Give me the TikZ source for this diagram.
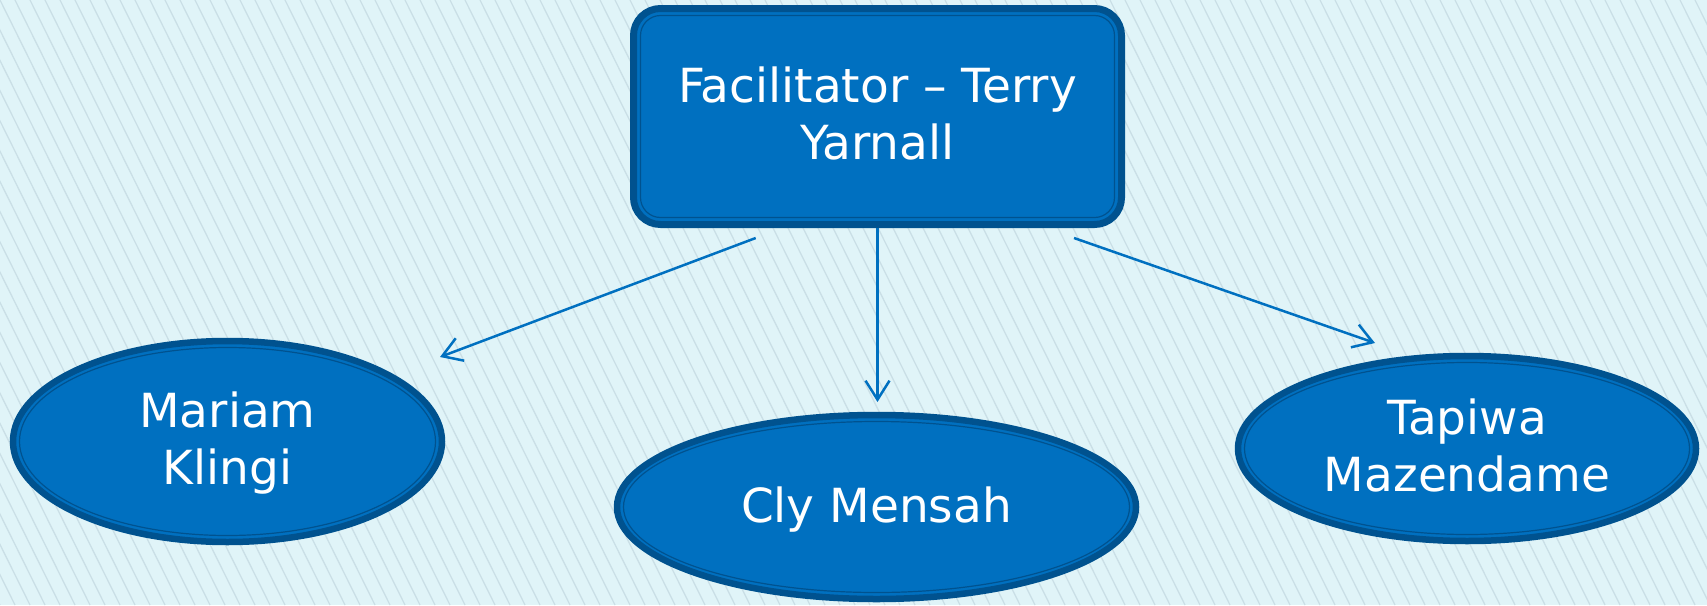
\documentclass[tikz,border=0pt]{standalone}
\usepackage{fontspec}
\setmainfont{DejaVu Sans}
\usetikzlibrary{shapes.geometric,arrows.meta}
\definecolor{bgc}{HTML}{E0F4F8}
\definecolor{hatchc}{HTML}{CADFE6}
\definecolor{fillb}{HTML}{0070C0}
\definecolor{edgeb}{HTML}{00528F}
\tikzset{
  lbl/.style={font=\fontsize{47}{57}\selectfont, text=white, align=center},
  outerbox/.style={rectangle, draw=edgeb, line width=7pt, fill=fillb, rounded corners=27pt, inner sep=0pt},
  innerbox/.style={rectangle, draw=edgeb, line width=1.2pt, rounded corners=20pt, inner sep=0pt},
  outerell/.style={ellipse, draw=edgeb, line width=6.5pt, fill=fillb, inner sep=0pt},
  innerell/.style={ellipse, draw=edgeb, line width=1.2pt, inner sep=0pt},
  conn/.style={draw=fillb, line width=2.5pt, -{Straight Barb[length=19pt,width=24pt]}}
}
\begin{document}
\begin{tikzpicture}[x=1pt,y=-1pt]
\useasboundingbox (0,0) rectangle (1707,605);
\fill[bgc] (0,0) rectangle (1707,605);
\begin{scope}
  \clip (0,0) rectangle (1707,605);
  \foreach \i in {-22,...,115} {
    \draw[hatchc, line width=1.3pt] (\i*15,0) -- ++(300,605);
  }
\end{scope}

% top box
\node[outerbox, minimum width=488pt, minimum height=216pt] (top) at (877.5,116.5) {};
\node[innerbox, minimum width=474pt, minimum height=202pt] (topin) at (top.center) {};
\node[lbl] (toptxt) at (877.5,113) {Facilitator – Terry\\Yarnall};

% ellipses
\node[outerell, minimum width=429pt, minimum height=201pt] (mk) at (227.5,441.5) {};
\node[innerell, minimum width=416pt, minimum height=188pt] (mkin) at (mk.center) {};
\node[lbl] (mktxt) at (227.5,443.5) {Mariam\\Klingi};

\node[outerell, minimum width=519pt, minimum height=184pt] (cm) at (876.5,507) {};
\node[innerell, minimum width=506pt, minimum height=171pt] (cmin) at (cm.center) {};
\node[lbl] (cmtxt) at (876.5,510) {Cly Mensah};

\node[outerell, minimum width=458pt, minimum height=185pt] (tm) at (1467,448.5) {};
\node[innerell, minimum width=445pt, minimum height=172pt] (tmin) at (tm.center) {};
\node[lbl] (tmtxt) at (1467,445) {Tapiwa\\Mazendame};

% connectors
\coordinate (la) at (755.7,238);
\coordinate (lb) at (440,357);
\coordinate (mb) at (877.5,402);
\coordinate (ra) at (1074,238);
\coordinate (rb) at (1375,343);
\draw[conn] (la) -- (lb);
\draw[conn] (top.south) -- (mb);
\draw[conn] (ra) -- (rb);
\end{tikzpicture}
\end{document}
